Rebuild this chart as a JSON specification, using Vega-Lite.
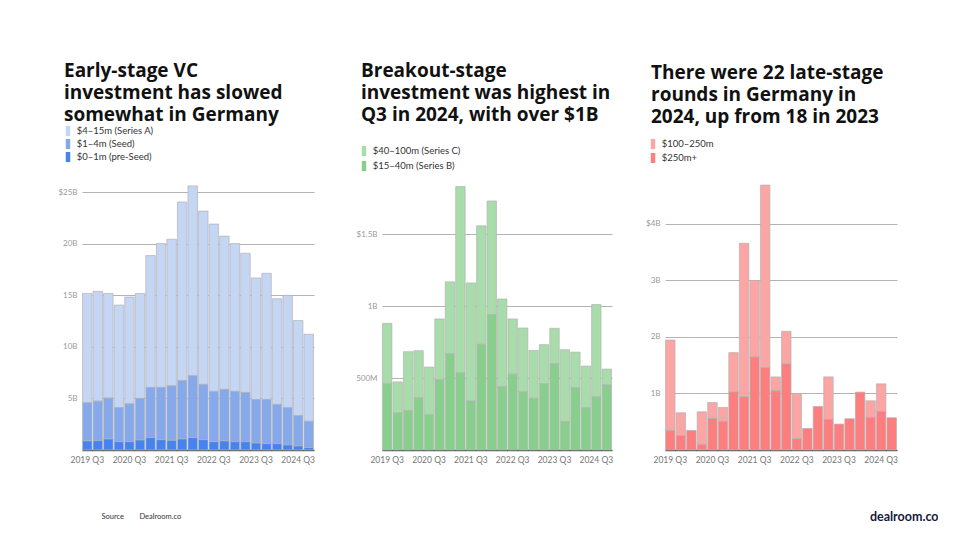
{
  "$schema": "https://vega.github.io/schema/vega-lite/v6.json",
  "background": "white",
  "padding": {"left": 57, "top": 62, "right": 0, "bottom": 0},
  "datasets": {
    "early": [
      {"q": "2019 Q3", "$4–15m (Series A)": 10.61, "$1–4m (Seed)": 3.70, "$0–1m (pre-Seed)": 0.88},
      {"q": "2019 Q4", "$4–15m (Series A)": 10.65, "$1–4m (Seed)": 3.83, "$0–1m (pre-Seed)": 0.91},
      {"q": "2020 Q1", "$4–15m (Series A)": 10.16, "$1–4m (Seed)": 3.96, "$0–1m (pre-Seed)": 1.07},
      {"q": "2020 Q2", "$4–15m (Series A)": 9.94, "$1–4m (Seed)": 3.31, "$0–1m (pre-Seed)": 0.81},
      {"q": "2020 Q3", "$4–15m (Series A)": 10.36, "$1–4m (Seed)": 3.67, "$0–1m (pre-Seed)": 0.81},
      {"q": "2020 Q4", "$4–15m (Series A)": 10.19, "$1–4m (Seed)": 4.03, "$0–1m (pre-Seed)": 0.97},
      {"q": "2021 Q1", "$4–15m (Series A)": 12.79, "$1–4m (Seed)": 4.87, "$0–1m (pre-Seed)": 1.2},
      {"q": "2021 Q2", "$4–15m (Series A)": 13.96, "$1–4m (Seed)": 5.07, "$0–1m (pre-Seed)": 1.0},
      {"q": "2021 Q3", "$4–15m (Series A)": 14.22, "$1–4m (Seed)": 5.29, "$0–1m (pre-Seed)": 0.94},
      {"q": "2021 Q4", "$4–15m (Series A)": 17.31, "$1–4m (Seed)": 5.68, "$0–1m (pre-Seed)": 1.07},
      {"q": "2022 Q1", "$4–15m (Series A)": 18.41, "$1–4m (Seed)": 6.01, "$0–1m (pre-Seed)": 1.2},
      {"q": "2022 Q2", "$4–15m (Series A)": 16.82, "$1–4m (Seed)": 5.36, "$0–1m (pre-Seed)": 1.0},
      {"q": "2022 Q3", "$4–15m (Series A)": 16.24, "$1–4m (Seed)": 4.87, "$0–1m (pre-Seed)": 0.81},
      {"q": "2022 Q4", "$4–15m (Series A)": 14.87, "$1–4m (Seed)": 5.0, "$0–1m (pre-Seed)": 0.88},
      {"q": "2023 Q1", "$4–15m (Series A)": 14.35, "$1–4m (Seed)": 4.87, "$0–1m (pre-Seed)": 0.81},
      {"q": "2023 Q2", "$4–15m (Series A)": 13.51, "$1–4m (Seed)": 4.77, "$0–1m (pre-Seed)": 0.81},
      {"q": "2023 Q3", "$4–15m (Series A)": 11.79, "$1–4m (Seed)": 4.22, "$0–1m (pre-Seed)": 0.68},
      {"q": "2023 Q4", "$4–15m (Series A)": 12.24, "$1–4m (Seed)": 4.28, "$0–1m (pre-Seed)": 0.62},
      {"q": "2024 Q1", "$4–15m (Series A)": 10.26, "$1–4m (Seed)": 3.8, "$0–1m (pre-Seed)": 0.62},
      {"q": "2024 Q2", "$4–15m (Series A)": 10.88, "$1–4m (Seed)": 3.63, "$0–1m (pre-Seed)": 0.49},
      {"q": "2024 Q3", "$4–15m (Series A)": 9.22, "$1–4m (Seed)": 2.95, "$0–1m (pre-Seed)": 0.39},
      {"q": "2024 Q4", "$4–15m (Series A)": 8.44, "$1–4m (Seed)": 2.56, "$0–1m (pre-Seed)": 0.23}
    ],
    "breakout": [
      {"q": "2019 Q3", "$40–100m (Series C)": 0.421, "$15–40m (Series B)": 0.460},
      {"q": "2019 Q4", "$40–100m (Series C)": 0.216, "$15–40m (Series B)": 0.258},
      {"q": "2020 Q1", "$40–100m (Series C)": 0.410, "$15–40m (Series B)": 0.274},
      {"q": "2020 Q2", "$40–100m (Series C)": 0.328, "$15–40m (Series B)": 0.363},
      {"q": "2020 Q3", "$40–100m (Series C)": 0.333, "$15–40m (Series B)": 0.244},
      {"q": "2020 Q4", "$40–100m (Series C)": 0.424, "$15–40m (Series B)": 0.488},
      {"q": "2021 Q1", "$40–100m (Series C)": 0.500, "$15–40m (Series B)": 0.670},
      {"q": "2021 Q2", "$40–100m (Series C)": 1.296, "$15–40m (Series B)": 0.537},
      {"q": "2021 Q3", "$40–100m (Series C)": 0.821, "$15–40m (Series B)": 0.342},
      {"q": "2021 Q4", "$40–100m (Series C)": 0.825, "$15–40m (Series B)": 0.735},
      {"q": "2022 Q1", "$40–100m (Series C)": 0.791, "$15–40m (Series B)": 0.942},
      {"q": "2022 Q2", "$40–100m (Series C)": 0.611, "$15–40m (Series B)": 0.440},
      {"q": "2022 Q3", "$40–100m (Series C)": 0.384, "$15–40m (Series B)": 0.528},
      {"q": "2022 Q4", "$40–100m (Series C)": 0.444, "$15–40m (Series B)": 0.405},
      {"q": "2023 Q1", "$40–100m (Series C)": 0.333, "$15–40m (Series B)": 0.360},
      {"q": "2023 Q2", "$40–100m (Series C)": 0.273, "$15–40m (Series B)": 0.460},
      {"q": "2023 Q3", "$40–100m (Series C)": 0.247, "$15–40m (Series B)": 0.600},
      {"q": "2023 Q4", "$40–100m (Series C)": 0.500, "$15–40m (Series B)": 0.198},
      {"q": "2024 Q1", "$40–100m (Series C)": 0.248, "$15–40m (Series B)": 0.433},
      {"q": "2024 Q2", "$40–100m (Series C)": 0.291, "$15–40m (Series B)": 0.293},
      {"q": "2024 Q3", "$40–100m (Series C)": 0.642, "$15–40m (Series B)": 0.370},
      {"q": "2024 Q4", "$40–100m (Series C)": 0.110, "$15–40m (Series B)": 0.453}
    ],
    "late": [
      {"q": "2019 Q3", "$100–250m": 1.600, "$250m+": 0.347},
      {"q": "2019 Q4", "$100–250m": 0.406, "$250m+": 0.253},
      {"q": "2020 Q1", "$100–250m": 0, "$250m+": 0.347},
      {"q": "2020 Q2", "$100–250m": 0.576, "$250m+": 0.1},
      {"q": "2020 Q3", "$100–250m": 0.282, "$250m+": 0.559},
      {"q": "2020 Q4", "$100–250m": 0.247, "$250m+": 0.506},
      {"q": "2021 Q1", "$100–250m": 0.695, "$250m+": 1.029},
      {"q": "2021 Q2", "$100–250m": 2.718, "$250m+": 0.941},
      {"q": "2021 Q3", "$100–250m": 1.353, "$250m+": 1.647},
      {"q": "2021 Q4", "$100–250m": 3.229, "$250m+": 1.459},
      {"q": "2022 Q1", "$100–250m": 0.247, "$250m+": 1.047},
      {"q": "2022 Q2", "$100–250m": 0.576, "$250m+": 1.524},
      {"q": "2022 Q3", "$100–250m": 0.8, "$250m+": 0.2},
      {"q": "2022 Q4", "$100–250m": 0, "$250m+": 0.382},
      {"q": "2023 Q1", "$100–250m": 0, "$250m+": 0.771},
      {"q": "2023 Q2", "$100–250m": 0.753, "$250m+": 0.541},
      {"q": "2023 Q3", "$100–250m": 0, "$250m+": 0.459},
      {"q": "2023 Q4", "$100–250m": 0, "$250m+": 0.553},
      {"q": "2024 Q1", "$100–250m": 0, "$250m+": 1.024},
      {"q": "2024 Q2", "$100–250m": 0.295, "$250m+": 0.576},
      {"q": "2024 Q3", "$100–250m": 0.489, "$250m+": 0.682},
      {"q": "2024 Q4", "$100–250m": 0, "$250m+": 0.571}
    ]
  },
  "resolve": {"scale": {"color": "independent"}, "legend": {"color": "independent"}},
  "hconcat": [
    {
      "spacing": 40,
      "resolve": {"scale": {"color": "independent"}, "legend": {"color": "independent"}},
      "hconcat": [
        {
          "width": 232,
          "height": 268,
          "data": {"name": "early"},
          "transform": [
            {"fold": ["$4–15m (Series A)", "$1–4m (Seed)", "$0–1m (pre-Seed)"], "as": ["stage", "v"]},
            {"filter": "datum.v > 0"}
          ],
          "title": {"text": ["Early-stage VC", "investment has slowed", "somewhat in Germany"], "offset": 1, "dx": -18},
          "mark": {"type": "bar", "stroke": "#b3b3b3", "strokeWidth": 0.7},
          "encoding": {
            "x": {
              "field": "q", "type": "ordinal", "sort": null,
              "scale": {"paddingInner": 0.1, "paddingOuter": 0.05},
              "axis": {
                "values": ["2019 Q3", "2020 Q3", "2021 Q3", "2022 Q3", "2023 Q3", "2024 Q3"],
                "title": "Source\u00a0\u00a0\u00a0\u00a0\u00a0\u00a0\u00a0\u00a0Dealroom.co",
                "titleAlign": "left", "titleAnchor": "start", "titleX": 19, "titleY": 66,
                "titleBaseline": "middle", "titleFontSize": 7.5, "titleFontWeight": "normal", "titleColor": "#333333"
              }
            },
            "y": {
              "field": "v", "type": "quantitative", "stack": "zero",
              "scale": {"domain": [0, 26], "nice": false},
              "axis": {"values": [5, 10, 15, 20, 25], "title": null, "labelExpr": "datum.value == 25 ? '$25B' : datum.value + 'B'"}
            },
            "color": {
              "field": "stage", "type": "nominal",
              "scale": {"domain": ["$4–15m (Series A)", "$1–4m (Seed)", "$0–1m (pre-Seed)"], "range": ["#c5d5f4", "#86a9eb", "#4584f0"]},
              "legend": {"title": null, "legendX": -19, "legendY": -56, "rowPadding": 3}
            },
            "order": {"field": "stage", "sort": "ascending"}
          }
        },
        {
          "width": 230,
          "height": 268,
          "data": {"name": "breakout"},
          "transform": [
            {"fold": ["$40–100m (Series C)", "$15–40m (Series B)"], "as": ["stage", "v"]},
            {"filter": "datum.v > 0"}
          ],
          "title": {"text": ["Breakout-stage", "investment was highest in", "Q3 in 2024, with over $1B"], "offset": 21, "dx": -21},
          "mark": {"type": "bar", "stroke": "#b3b3b3", "strokeWidth": 0.7},
          "encoding": {
            "x": {
              "field": "q", "type": "ordinal", "sort": null,
              "scale": {"paddingInner": 0.1, "paddingOuter": 0.05},
              "axis": {"values": ["2019 Q3", "2020 Q3", "2021 Q3", "2022 Q3", "2023 Q3", "2024 Q3"], "title": null}
            },
            "y": {
              "field": "v", "type": "quantitative", "stack": "zero",
              "scale": {"domain": [0, 1.865], "nice": false},
              "axis": {"values": [0.5, 1, 1.5], "title": null, "labelExpr": "datum.value == 1.5 ? '$1.5B' : datum.value == 1 ? '1B' : '500M'"}
            },
            "color": {
              "field": "stage", "type": "nominal",
              "scale": {"domain": ["$40–100m (Series C)", "$15–40m (Series B)"], "range": ["#a8dcaa", "#88cf8d"]},
              "legend": {"title": null, "legendX": -23, "legendY": -36, "rowPadding": 5}
            },
            "order": {"field": "stage", "sort": "ascending"}
          }
        }
      ]
    },
    {
      "width": 232,
      "height": 268,
      "data": {"name": "late"},
      "transform": [
        {"fold": ["$100–250m", "$250m+"], "as": ["stage", "v"]},
        {"filter": "datum.v > 0"}
      ],
      "title": {"text": ["There were 22 late-stage", "rounds in Germany in", "2024, up from 18 in 2023"], "offset": 12, "dx": -14},
      "mark": {"type": "bar", "stroke": "#b3b3b3", "strokeWidth": 0.7},
      "encoding": {
        "x": {
          "field": "q", "type": "ordinal", "sort": null,
          "scale": {"paddingInner": 0.1, "paddingOuter": 0.05},
          "axis": {
            "values": ["2019 Q3", "2020 Q3", "2021 Q3", "2022 Q3", "2023 Q3", "2024 Q3"],
            "title": "dealroom.co", "titleAlign": "right", "titleAnchor": "end", "titleX": 273, "titleY": 66,
            "titleBaseline": "middle", "titleFontSize": 12.5, "titleFontWeight": "bold", "titleColor": "#141a3c"
          }
        },
        "y": {
          "field": "v", "type": "quantitative", "stack": "zero",
          "scale": {"domain": [0, 4.743], "nice": false},
          "axis": {"values": [1, 2, 3, 4], "title": null, "labelExpr": "datum.value == 4 ? '$4B' : datum.value + 'B'"}
        },
        "color": {
          "field": "stage", "type": "nominal",
          "scale": {"domain": ["$100–250m", "$250m+"], "range": ["#fca5a5", "#fd7e7e"]},
          "legend": {"title": null, "legendX": -17, "legendY": -43, "rowPadding": 4}
        },
        "order": {"field": "stage", "sort": "descending"}
      }
    }
  ],
  "spacing": 32,
  "config": {
    "font": "Lato",
    "view": {"stroke": null},
    "title": {"anchor": "start", "frame": "group", "fontSize": 19, "fontWeight": "bold", "lineHeight": 22, "color": "#111111", "font": "Open Sans"},
    "axisY": {"grid": true, "gridColor": "#b3b3b3", "gridWidth": 1.2, "domain": false, "ticks": false, "labelColor": "#9a9a9a", "labelFontSize": 8, "labelPadding": 5, "labelFont": "Lato"},
    "axisX": {"grid": false, "domain": true, "domainColor": "#555555", "domainWidth": 1.5, "ticks": false, "labelAngle": 0, "labelColor": "#777777", "labelFontSize": 8.5, "labelPadding": 5, "labelFont": "Lato"},
    "legend": {"orient": "none", "direction": "vertical", "symbolType": "M-0.45,-1H0.45V1H-0.45Z", "symbolSize": 100, "symbolStrokeWidth": 0, "labelFontSize": 9.5, "labelColor": "#333333", "labelOffset": 3.7, "padding": 0, "labelFont": "Lato"}
  }
}
